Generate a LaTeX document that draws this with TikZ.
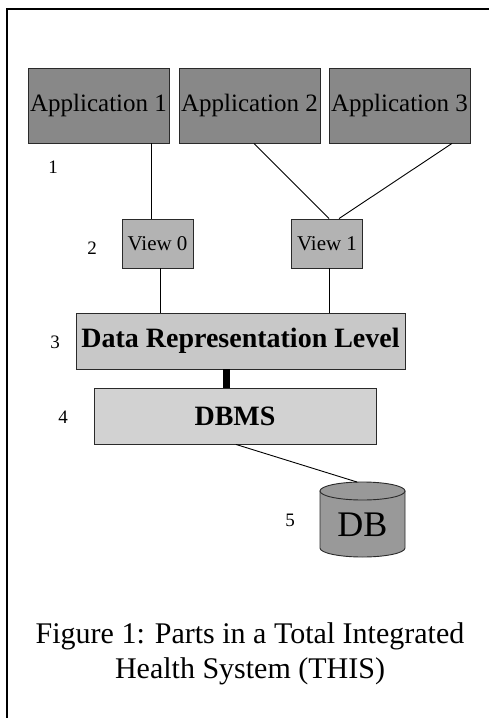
\documentclass[tikz,border=0pt]{standalone}
\usepackage{fontspec}
\setmainfont{Liberation Serif}
\newcommand{\fsz}[1]{\fontsize{#1}{#1}\selectfont}
\definecolor{appgray}{HTML}{888888}
\definecolor{viewgray}{HTML}{B3B3B3}
\definecolor{drlgray}{HTML}{C8C8C8}
\definecolor{dbmsgray}{HTML}{D2D2D2}
\definecolor{dbgray}{HTML}{999999}
\definecolor{edgegray}{HTML}{2A2A2A}
\begin{document}
\begin{tikzpicture}[x=1pt,y=-1pt,
  box/.style={rectangle,draw=edgegray,line width=0.9pt,inner sep=0pt,anchor=center},
  appbox/.style={box,fill=appgray,minimum width=141pt,minimum height=75pt,font=\fsz{25}},
  viewbox/.style={box,fill=viewgray,minimum width=71pt,minimum height=49pt,font=\fsz{21}},
  levelno/.style={inner sep=0pt,font=\fsz{19}},
  link/.style={draw=black,line width=0.9pt},
  thicklink/.style={draw=black,line width=7pt}]
\useasboundingbox (0,0) rectangle (488,718);
% outer frame (only left and top edges fall on the page)
\draw[line width=2pt] (7,720) -- (7,9) -- (490,9);

% applications
\node[appbox] (app1) at (98.5,105.5) {Application 1};
\node[appbox] (app2) at (249.5,105.5) {Application 2};
\node[appbox] (app3) at (399.5,105.5) {Application 3};

% views
\node[viewbox] (view0) at (157.5,243.5) {View 0};
\node[viewbox] (view1) at (327,243.5) {View 1};

% data representation level and DBMS
\node[box,fill=drlgray,minimum width=329pt,minimum height=56pt,font=\fsz{28}\bfseries]
  (drl) at (240.5,341) {Data Representation Level};
\node[box,fill=dbmsgray,minimum width=282pt,minimum height=56pt,font=\fsz{28}\bfseries]
  (dbms) at (235,416) {DBMS};

% database cylinder: body with lower rim, then the top ellipse over it
\draw[edgegray,line width=0.9pt,fill=dbgray] (320,491) -- (320,548)
  arc[start angle=180,end angle=0,x radius=42.5,y radius=9] -- (405,491) -- cycle;
\draw[edgegray,line width=0.9pt,fill=dbgray] (362.5,491) ellipse[x radius=42.5,y radius=9];
\node[inner sep=0pt,font=\fsz{36}] (db) at (362.5,525) {DB};
\coordinate (dbtop) at (357,482);

% level numbers
\node[levelno] (n1) at (53,167) {1};
\node[levelno] (n2) at (92,248) {2};
\node[levelno] (n3) at (55,342) {3};
\node[levelno] (n4) at (63,417) {4};
\node[levelno] (n5) at (290,520) {5};

% connectors
\draw[link] ([xshift=-6.5pt]view0.north |- app1.south) -- ([xshift=-6.5pt]view0.north);
\draw[link] ([xshift=4.5pt]app2.south) -- ([xshift=2pt]view1.north);
\draw[link] ([xshift=52.5pt]app3.south) -- ([xshift=12pt]view1.north);
\draw[link] ([xshift=2.5pt]view0.south) -- ([xshift=2.5pt]view0.south |- drl.north);
\draw[link] ([xshift=2pt]view1.south) -- ([xshift=2pt]view1.south |- drl.north);
\draw[thicklink] ([xshift=-14.5pt]drl.south) -- ([xshift=-14.5pt]drl.south |- dbms.north);
\draw[link] ([xshift=1pt]dbms.south) -- (dbtop);

% caption
\node[align=center,inner sep=0pt,font=\fontsize{30}{35}\selectfont] (caption) at (250,654)
  {Figure 1: Parts in a Total Integrated\\Health System (THIS)};
\end{tikzpicture}
\end{document}
